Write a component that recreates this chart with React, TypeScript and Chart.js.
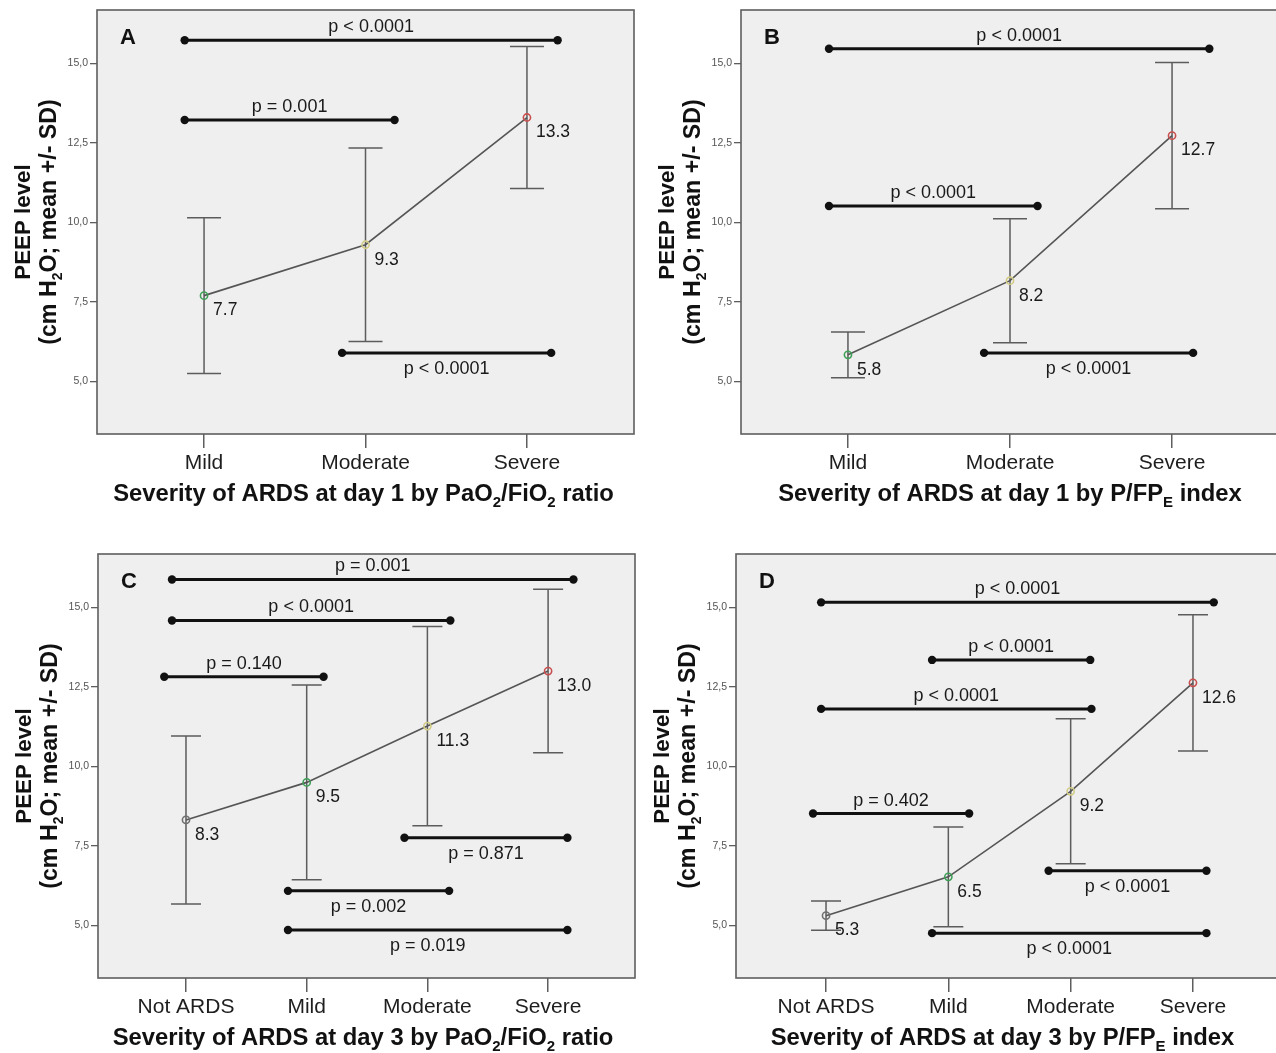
import React, { useEffect, useRef } from "react";
import { Chart, registerables } from "chart.js";

Chart.register(...registerables);

// ---------------- data ----------------
const CATS_3 = ["Mild", "Moderate", "Severe"];
const CATS_4 = ["Not ARDS", "Mild", "Moderate", "Severe"];
const Y_TICKS = [5, 7.5, 10, 12.5, 15];

const A_MEAN = [7.7, 9.3, 13.3];
const A_SD = [2.45, 3.04, 2.23];
const B_MEAN = [5.84, 8.17, 12.73];
const B_SD = [0.72, 1.95, 2.3];
const C_MEAN = [8.32, 9.5, 11.27, 13.0];
const C_SD = [2.64, 3.06, 3.13, 2.57];
const D_MEAN = [5.31, 6.53, 9.22, 12.63];
const D_SD = [0.46, 1.57, 2.28, 2.14];

// significance comparisons (x in category units, y in cm H2O)
const A_SIG = [
  { from: -0.12, to: 2.19, y: 15.73, text: "p < 0.0001", below: false },
  { from: -0.12, to: 1.18, y: 13.22, text: "p = 0.001", below: false },
  { from: 0.855, to: 2.15, y: 5.9, text: "p < 0.0001", below: true },
];
const B_SIG = [
  { from: -0.117, to: 2.23, y: 15.46, text: "p < 0.0001", below: false },
  { from: -0.117, to: 1.17, y: 10.52, text: "p < 0.0001", below: false },
  { from: 0.84, to: 2.13, y: 5.9, text: "p < 0.0001", below: true },
];
const C_SIG = [
  { from: -0.116, to: 3.21, y: 15.88, text: "p = 0.001", below: false },
  { from: -0.116, to: 2.19, y: 14.59, text: "p < 0.0001", below: false },
  { from: -0.18, to: 1.14, y: 12.82, text: "p = 0.140", below: false },
  { from: 1.81, to: 3.16, y: 7.76, text: "p = 0.871", below: true },
  { from: 0.845, to: 2.18, y: 6.09, text: "p = 0.002", below: true },
  { from: 0.845, to: 3.16, y: 4.86, text: "p = 0.019", below: true },
];
const D_SIG = [
  { from: -0.04, to: 3.17, y: 15.16, text: "p < 0.0001", below: false },
  { from: 0.867, to: 2.16, y: 13.35, text: "p < 0.0001", below: false },
  { from: -0.04, to: 2.17, y: 11.81, text: "p < 0.0001", below: false },
  { from: -0.106, to: 1.17, y: 8.52, text: "p = 0.402", below: false },
  { from: 1.82, to: 3.11, y: 6.72, text: "p < 0.0001", below: true },
  { from: 0.867, to: 3.11, y: 4.76, text: "p < 0.0001", below: true },
];

const Y_TITLE_1 = "PEEP level";
const Y_TITLE_2 = "(cm H_2O; mean +/- SD)";
const X_TITLE_A = "Severity of ARDS at day 1 by PaO_2/FiO_2 ratio";
const X_TITLE_B = "Severity of ARDS at day 1 by P/FP_E index";
const X_TITLE_C = "Severity of ARDS at day 3 by PaO_2/FiO_2 ratio";
const X_TITLE_D = "Severity of ARDS at day 3 by P/FP_E index";

// ---------------- styling / layout ----------------
const FONT = "'Liberation Sans', Arial, Helvetica, sans-serif";
const POINT_COLORS: Record<string, string> = {
  "Not ARDS": "#6f6f6f",
  Mild: "#3f9f57",
  Moderate: "#d2cc86",
  Severe: "#c94f4f",
};
const Y_MIN = 3.35;
const Y_MAX = 16.68;

type Sig = { from: number; to: number; y: number; text: string; below: boolean };
type PanelCfg = {
  letter: string;
  cats: string[];
  mean: number[];
  sd: number[];
  sig: Sig[];
  xTitle: string;
  canvas: { left: number; top: number; w: number; h: number };
  area: { left: number; top: number; right: number; bottom: number };
  xMin: number;
  xMax: number;
  cap: number;
  titleShift: number;
};

const PANELS: PanelCfg[] = [
  {
    letter: "A", cats: CATS_3, mean: A_MEAN, sd: A_SD, sig: A_SIG, xTitle: X_TITLE_A,
    canvas: { left: 0, top: 0, w: 644, h: 520 },
    area: { left: 97, top: 10, right: 634, bottom: 434 },
    xMin: -0.663, xMax: 2.663, cap: 17, titleShift: -2,
  },
  {
    letter: "B", cats: CATS_3, mean: B_MEAN, sd: B_SD, sig: B_SIG, xTitle: X_TITLE_B,
    canvas: { left: 638, top: 0, w: 652, h: 520 },
    area: { left: 741, top: 10, right: 1279, bottom: 434 },
    xMin: -0.66, xMax: 2.66, cap: 17, titleShift: 0,
  },
  {
    letter: "C", cats: CATS_4, mean: C_MEAN, sd: C_SD, sig: C_SIG, xTitle: X_TITLE_C,
    canvas: { left: 0, top: 520, w: 644, h: 533 },
    area: { left: 98, top: 554, right: 635, bottom: 978 },
    xMin: -0.729, xMax: 3.72, cap: 15, titleShift: -4,
  },
  {
    letter: "D", cats: CATS_4, mean: D_MEAN, sd: D_SD, sig: D_SIG, xTitle: X_TITLE_D,
    canvas: { left: 638, top: 520, w: 656, h: 533 },
    area: { left: 736, top: 554, right: 1283, bottom: 978 },
    xMin: -0.736, xMax: 3.736, cap: 15, titleShift: -7,
  },
];

// ---------------- helpers ----------------
function parseRich(s: string) {
  const parts: { t: string; sub: boolean }[] = [];
  const re = /_(\w)/g;
  let last = 0;
  let m: RegExpExecArray | null;
  while ((m = re.exec(s))) {
    if (m.index > last) parts.push({ t: s.slice(last, m.index), sub: false });
    parts.push({ t: m[1], sub: true });
    last = re.lastIndex;
  }
  if (last < s.length) parts.push({ t: s.slice(last), sub: false });
  return parts;
}

function drawRich(ctx: CanvasRenderingContext2D, s: string, cx: number, cy: number, size: number, weight: string, color: string) {
  const parts = parseRich(s);
  const mainFont = `${weight} ${size}px ${FONT}`;
  const subFont = `${weight} ${Math.round(size * 0.62)}px ${FONT}`;
  const widths = parts.map((p) => {
    ctx.font = p.sub ? subFont : mainFont;
    return ctx.measureText(p.t).width;
  });
  const total = widths.reduce((a, b) => a + b, 0);
  let x = cx - total / 2;
  const base = cy + size * 0.35;
  ctx.fillStyle = color;
  ctx.textAlign = "left";
  ctx.textBaseline = "alphabetic";
  parts.forEach((p, i) => {
    ctx.font = p.sub ? subFont : mainFont;
    ctx.fillText(p.t, x, p.sub ? base + size * 0.25 : base);
    x += widths[i];
  });
}

function makePlugin(cfg: PanelCfg) {
  return {
    id: "panelDecor" + cfg.letter,
    beforeDraw(chart: any) {
      const { ctx, chartArea: a } = chart;
      ctx.save();
      ctx.fillStyle = "#efefef";
      ctx.fillRect(a.left, a.top, a.right - a.left, a.bottom - a.top);
      ctx.restore();
    },
    beforeDatasetsDraw(chart: any) {
      const { ctx } = chart;
      const xs = chart.scales.x;
      const ys = chart.scales.y;
      ctx.save();
      ctx.strokeStyle = "#5c5c5c";
      ctx.lineWidth = 1.5;
      cfg.mean.forEach((m, i) => {
        const x = xs.getPixelForValue(i);
        const yt = ys.getPixelForValue(m + cfg.sd[i]);
        const yb = ys.getPixelForValue(m - cfg.sd[i]);
        ctx.beginPath();
        ctx.moveTo(x, yt);
        ctx.lineTo(x, yb);
        ctx.moveTo(x - cfg.cap, yt);
        ctx.lineTo(x + cfg.cap, yt);
        ctx.moveTo(x - cfg.cap, yb);
        ctx.lineTo(x + cfg.cap, yb);
        ctx.stroke();
      });
      ctx.restore();
    },
    afterDatasetsDraw(chart: any) {
      const { ctx } = chart;
      const xs = chart.scales.x;
      const ys = chart.scales.y;
      ctx.save();
      // significance labels
      ctx.fillStyle = "#1a1a1a";
      ctx.font = `18px ${FONT}`;
      ctx.textAlign = "center";
      ctx.textBaseline = "middle";
      cfg.sig.forEach((s) => {
        const x = (xs.getPixelForValue(s.from) + xs.getPixelForValue(s.to)) / 2;
        const y = ys.getPixelForValue(s.y) + (s.below ? 16 : -13);
        ctx.fillText(s.text, x, y);
      });
      // mean value labels
      ctx.font = `17.5px ${FONT}`;
      ctx.textAlign = "left";
      cfg.mean.forEach((m, i) => {
        const x = xs.getPixelForValue(i);
        const y = ys.getPixelForValue(m);
        ctx.fillText(m.toFixed(1), x + 9, y + 15);
      });
      ctx.restore();
    },
    afterDraw(chart: any) {
      const { ctx, chartArea: a } = chart;
      const xs = chart.scales.x;
      ctx.save();
      // frame
      ctx.strokeStyle = "#5e5e5e";
      ctx.lineWidth = 1.6;
      ctx.strokeRect(a.left, a.top, a.right - a.left, a.bottom - a.top);
      // panel letter
      ctx.fillStyle = "#111";
      ctx.font = `bold 22px ${FONT}`;
      ctx.textAlign = "center";
      ctx.textBaseline = "middle";
      ctx.fillText(cfg.letter, a.left + 31, a.top + 28);
      // x title
      const mid = xs.getPixelForValue((cfg.cats.length - 1) / 2) + cfg.titleShift;
      drawRich(ctx, cfg.xTitle, mid, a.bottom + 59, 23.8, "bold", "#111");
      // y title (rotated)
      const cy = (a.top + a.bottom) / 2;
      ctx.translate(a.left - 75, cy);
      ctx.rotate(-Math.PI / 2);
      drawRich(ctx, Y_TITLE_1, 0, 0, 22.3, "bold", "#111");
      ctx.restore();
      ctx.save();
      ctx.translate(a.left - 49, cy);
      ctx.rotate(-Math.PI / 2);
      drawRich(ctx, Y_TITLE_2, 0, 0, 23.2, "bold", "#111");
      ctx.restore();
    },
  };
}

function Panel({ cfg }: { cfg: PanelCfg }) {
  const ref = useRef<HTMLCanvasElement | null>(null);
  useEffect(() => {
    if (!ref.current) return;
    const c = cfg.canvas;
    const a = cfg.area;
    const datasets: any[] = [
      {
        data: cfg.mean.map((m, i) => ({ x: i, y: m })),
        borderColor: "#555555",
        borderWidth: 1.6,
        tension: 0,
        pointRadius: 3.6,
        pointBorderWidth: 1.6,
        pointBorderColor: cfg.cats.map((k) => POINT_COLORS[k]),
        pointBackgroundColor: "rgba(0,0,0,0)",
      },
      ...cfg.sig.map((s) => ({
        data: [
          { x: s.from, y: s.y },
          { x: s.to, y: s.y },
        ],
        borderColor: "#111111",
        borderWidth: 3,
        pointRadius: 4.2,
        pointBorderWidth: 0,
        pointBackgroundColor: "#111111",
      })),
    ];
    const chart = new Chart(ref.current, {
      type: "line",
      data: { datasets },
      options: {
        animation: false,
        responsive: false,
        maintainAspectRatio: false,
        layout: {
          padding: { left: 0, top: a.top - c.top, right: c.left + c.w - a.right, bottom: 0 },
        },
        plugins: {
          legend: { display: false },
          tooltip: { enabled: false },
          title: { display: false },
        },
        scales: {
          x: {
            type: "linear",
            min: cfg.xMin,
            max: cfg.xMax,
            afterBuildTicks: (s: any) => {
              s.ticks = cfg.cats.map((_, i) => ({ value: i }));
            },
            afterFit: (s: any) => {
              s.height = c.top + c.h - a.bottom;
            },
            ticks: {
              callback: (v: any) => cfg.cats[Math.round(Number(v))] ?? "",
              font: { family: FONT, size: 21 },
              color: "#1e1e1e",
              padding: 3,
              autoSkip: false,
              maxRotation: 0,
              minRotation: 0,
            },
            grid: { drawOnChartArea: false, drawTicks: true, tickLength: 14, color: "#5e5e5e", lineWidth: 1.5 },
            border: { display: false },
          },
          y: {
            type: "linear",
            min: Y_MIN,
            max: Y_MAX,
            afterBuildTicks: (s: any) => {
              s.ticks = Y_TICKS.map((v) => ({ value: v }));
            },
            afterFit: (s: any) => {
              s.width = a.left - c.left;
            },
            ticks: {
              callback: (v: any) => Number(v).toFixed(1).replace(".", ","),
              font: { family: FONT, size: 10.5 },
              color: "#555555",
              padding: 2,
            },
            grid: { drawOnChartArea: false, drawTicks: true, tickLength: 7, color: "#5e5e5e", lineWidth: 1.3 },
            border: { display: false },
          },
        },
      },
      plugins: [makePlugin(cfg)],
    } as any);
    return () => chart.destroy();
  }, [cfg]);
  const c = cfg.canvas;
  return (
    <canvas
      ref={ref}
      width={c.w}
      height={c.h}
      style={{ position: "absolute", left: c.left, top: c.top, width: c.w, height: c.h }}
    />
  );
}

export default function App() {
  return (
    <div
      style={{
        position: "absolute",
        left: 0,
        top: 0,
        width: 1276,
        height: 1053,
        background: "#ffffff",
        overflow: "hidden",
      }}
    >
      {PANELS.map((p) => (
        <Panel key={p.letter} cfg={p} />
      ))}
    </div>
  );
}
